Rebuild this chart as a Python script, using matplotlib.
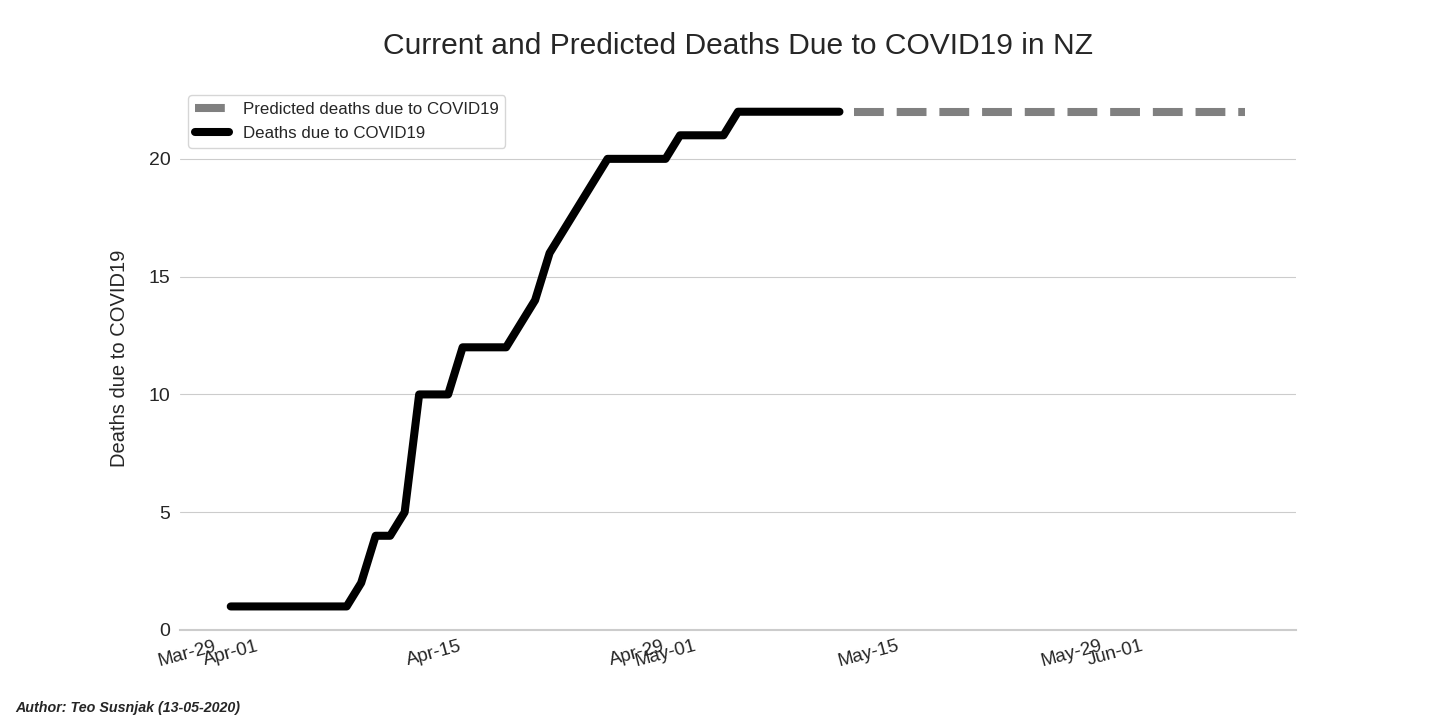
import numpy as np
import pandas as pd
import matplotlib
matplotlib.use("Agg")
import matplotlib.pyplot as plt
import matplotlib.dates as mdates
import seaborn as sns

sns.set_style("whitegrid")
plt.rcParams['font.family'] = ['Liberation Sans', 'DejaVu Sans']

# actual deaths, daily from 1 April 2020 to 13 May 2020
death_dates = pd.date_range("2020-04-01", "2020-05-13", freq="D")
deaths = [1, 1, 1, 1, 1, 1, 1, 1, 1, 2,
          4, 4, 5, 10, 10, 10, 12, 12, 12, 12,
          13, 14, 16, 17, 18, 19, 20, 20, 20, 20,
          20, 21, 21, 21, 21, 22, 22, 22, 22, 22,
          22, 22, 22]

# predicted deaths, 14 May 2020 to 10 June 2020
pred_dates = pd.date_range("2020-05-14", "2020-06-10", freq="D")
pred_deaths = [22, 22, 22, 22, 22, 22, 22, 22, 22, 22,
               22, 22, 22, 22, 22, 22, 22, 22, 22, 22,
               22, 22, 22, 22, 22, 22, 22, 22]

tick_dates = pd.to_datetime(["2020-03-29", "2020-04-01", "2020-04-15", "2020-04-29",
                             "2020-05-01", "2020-05-15", "2020-05-29", "2020-06-01"])

fig, ax = plt.subplots(figsize=(14.4, 7.2), dpi=100)
fig.subplots_adjust(left=180/1440, right=1296/1440, top=1-87/720, bottom=1-630/720)

ax.plot(pred_dates, pred_deaths, color="gray", linestyle="--", linewidth=5.8,
        label="Predicted deaths due to COVID19")
ax.plot(death_dates, deaths, color="black", linewidth=5.8,
        solid_capstyle="round", label="Deaths due to COVID19")

ax.set_ylim(bottom=0)
ax.grid(axis="x", visible=False)
for s in ["left", "top", "right"]:
    ax.spines[s].set_visible(False)
ax.spines["bottom"].set_color("#cccccc")
ax.spines["bottom"].set_linewidth(1.5)

ax.set_xticks(tick_dates)
ax.xaxis.set_major_formatter(mdates.DateFormatter("%b-%d"))
plt.setp(ax.get_xticklabels(), rotation=15, ha="center")
ax.tick_params(axis="x", labelsize=13.5, colors="#262626", pad=2)
ax.tick_params(axis="y", labelsize=14, colors="#262626")

ax.set_ylabel("Deaths due to COVID19", fontsize=14.5, color="#262626", labelpad=14)
ax.set_title("Current and Predicted Deaths Due to COVID19 in NZ", fontsize=21.6,
             color="#262626", pad=24)

ax.legend(loc="upper left", fontsize=12.2, frameon=True, edgecolor="#cccccc",
          bbox_to_anchor=(0.0, 1.0))

fig.text(15/1440, 1-708/720, "Author: Teo Susnjak (13-05-2020)", fontsize=10.3,
         fontweight="bold", fontstyle="italic", color="#262626", va="center")

plt.savefig("out.png", dpi=100)
